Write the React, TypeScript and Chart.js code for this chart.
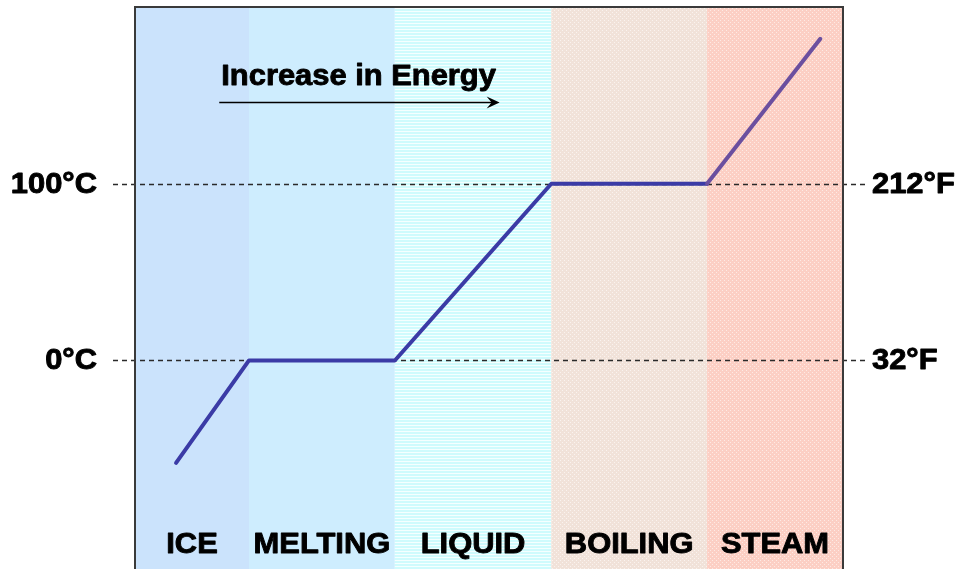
import React, { useEffect, useRef } from "react";
import { Chart, registerables } from "chart.js";

Chart.register(...registerables);

// Phase bands (energy units, 0..100)
const bandNames = ["ICE", "MELTING", "LIQUID", "BOILING", "STEAM"];
const bandStarts = [0, 16.1, 36.7, 58.8, 80.8];
const bandEnds = [16.1, 36.7, 58.8, 80.8, 100];

// Heating curve: energy vs temperature (°C)
const energy = [5.8, 16.1, 36.7, 58.8, 80.8, 96.8];
const tempC = [-58, 0, 0, 100, 100, 182];

// Reference temperatures
const refTempsC = [100, 0];
const celsiusLabels = ["100°C", "0°C"];
const fahrenheitLabels = ["212°F", "32°F"];

// Annotation
const arrowText = "Increase in Energy";
const arrowFrom = 11.9;
const arrowTo = 51.5;
const arrowTemp = 146.5;
const arrowTextTemp = 156;

const FONT = "bold 29px 'Liberation Sans', Arial, sans-serif";
const STRETCH = 1.065;

function makePattern(kind: string): CanvasPattern | string {
  const c = document.createElement("canvas");
  const ctx = c.getContext("2d")!;
  if (kind === "liquid") {
    c.width = 4; c.height = 3;
    ctx.fillStyle = "#cffbfd"; ctx.fillRect(0, 0, 4, 3);
    ctx.fillStyle = "#f5ffff"; ctx.fillRect(0, 2, 4, 1);
  } else if (kind === "boiling") {
    c.width = 4; c.height = 4;
    ctx.fillStyle = "#f1e2d9"; ctx.fillRect(0, 0, 4, 4);
    ctx.fillStyle = "#faf3ef"; ctx.fillRect(0, 0, 1, 1); ctx.fillRect(2, 2, 1, 1);
  } else {
    c.width = 4; c.height = 4;
    ctx.fillStyle = "#fccfc4"; ctx.fillRect(0, 0, 4, 4);
    ctx.fillStyle = "#feeae4"; ctx.fillRect(0, 0, 1, 1); ctx.fillRect(2, 2, 1, 1);
  }
  return ctx.createPattern(c, "repeat")!;
}

function label(ctx: CanvasRenderingContext2D, text: string, x: number, y: number, align: CanvasTextAlign, baseline: CanvasTextBaseline) {
  ctx.save();
  ctx.translate(x, y);
  ctx.scale(STRETCH, 1);
  ctx.font = FONT;
  ctx.textAlign = align;
  ctx.textBaseline = baseline;
  ctx.fillStyle = "#000";
  ctx.strokeStyle = "#000";
  ctx.lineWidth = 0.9;
  ctx.lineJoin = "round";
  ctx.fillText(text, 0, 0);
  ctx.strokeText(text, 0, 0);
  ctx.restore();
}

const decorPlugin = {
  id: "decor",
  beforeDatasetsDraw(chart: any) {
    const { ctx, chartArea, scales } = chart;
    const x = scales.x, y = scales.y;
    const fills: any[] = ["#cbe3fc", "#ceedfe", makePattern("liquid"), makePattern("boiling"), makePattern("steam")];
    ctx.save();
    bandNames.forEach((_, i) => {
      const x0 = x.getPixelForValue(bandStarts[i]);
      const x1 = x.getPixelForValue(bandEnds[i]);
      ctx.fillStyle = fills[i];
      ctx.fillRect(x0, chartArea.top, x1 - x0, chartArea.bottom - chartArea.top);
    });
    // dashed reference lines
    ctx.strokeStyle = "#2a2a2a";
    ctx.lineWidth = 1.4;
    ctx.setLineDash([5, 4]);
    refTempsC.forEach((t) => {
      const py = Math.round(y.getPixelForValue(t)) + 0.5;
      ctx.beginPath();
      ctx.moveTo(chartArea.left - 22, py);
      ctx.lineTo(chartArea.right + 22, py);
      ctx.stroke();
    });
    ctx.setLineDash([]);
    // border
    ctx.strokeStyle = "#3a3a3a";
    ctx.lineWidth = 2;
    ctx.beginPath();
    ctx.moveTo(chartArea.left, chartArea.bottom);
    ctx.lineTo(chartArea.left, chartArea.top);
    ctx.lineTo(chartArea.right, chartArea.top);
    ctx.lineTo(chartArea.right, chartArea.bottom);
    ctx.stroke();
    // labels
    refTempsC.forEach((t, i) => {
      const py = y.getPixelForValue(t) + 1;
      label(ctx, celsiusLabels[i], chartArea.left - 38, py, "right", "middle");
      label(ctx, fahrenheitLabels[i], chartArea.right + 29, py, "left", "middle");
    });
    bandNames.forEach((n, i) => {
      const cx = (x.getPixelForValue(bandStarts[i]) + x.getPixelForValue(bandEnds[i])) / 2;
      label(ctx, n, cx, chartArea.bottom - 16, "center", "alphabetic");
    });
    // arrow annotation
    const ax0 = x.getPixelForValue(arrowFrom);
    const ax1 = x.getPixelForValue(arrowTo);
    const ay = Math.round(y.getPixelForValue(arrowTemp)) + 0.5;
    label(ctx, arrowText, ax0 + 2, y.getPixelForValue(arrowTextTemp), "left", "alphabetic");
    ctx.strokeStyle = "#000";
    ctx.lineWidth = 1.5;
    ctx.beginPath();
    ctx.moveTo(ax0, ay);
    ctx.lineTo(ax1 - 6, ay);
    ctx.stroke();
    ctx.beginPath();
    ctx.moveTo(ax1, ay);
    ctx.lineTo(ax1 - 13, ay - 6);
    ctx.lineTo(ax1 - 8, ay);
    ctx.lineTo(ax1 - 13, ay + 6);
    ctx.closePath();
    ctx.fillStyle = "#000";
    ctx.fill();
    ctx.restore();
  },
};

export default function App() {
  const ref = useRef<HTMLCanvasElement>(null);
  useEffect(() => {
    const chart = new Chart(ref.current!, {
      type: "line",
      data: {
        datasets: [
          {
            data: energy.map((e, i) => ({ x: e, y: tempC[i] })),
            borderColor: "#3b3ba6",
            borderWidth: 4,
            pointRadius: 0,
            tension: 0,
            borderJoinStyle: "round",
            borderCapStyle: "round",
            segment: {
              borderColor: (c: any) => (c.p0.parsed.x >= 80 ? "#6b4f9f" : "#3b3ba6"),
            },
          } as any,
        ],
      },
      options: {
        animation: false,
        responsive: true,
        maintainAspectRatio: false,
        layout: { padding: { left: 135, right: 112, top: 7, bottom: 0 } },
        plugins: { legend: { display: false }, tooltip: { enabled: false } },
        scales: {
          x: { type: "linear", min: 0, max: 100, display: false },
          y: { type: "linear", min: -118, max: 200, display: false },
        },
      },
      plugins: [decorPlugin],
    });
    return () => chart.destroy();
  }, []);
  return (
    <div style={{ position: "fixed", left: 0, top: 0, width: 955, height: 569, background: "#fff" }}>
      <canvas ref={ref} />
    </div>
  );
}
